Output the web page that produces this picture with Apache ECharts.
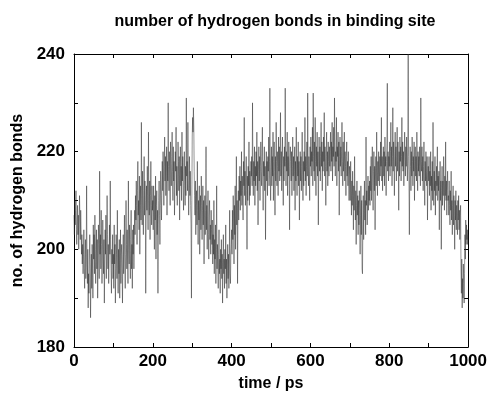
<!DOCTYPE html>
<html>
<head>
<meta charset="utf-8">
<script src="https://cdn.jsdelivr.net/npm/echarts@6/dist/echarts.min.js"></script>
<style>
  html, body { margin: 0; padding: 0; background: #fff; }
  #chart { width: 490px; height: 397px; }
</style>
</head>
<body>
<div id="chart"></div>
<script>
// Hydrogen-bond count in the binding site, one frame per ps from 0 to 1000 ps
const timeStart = 0;
const timeStep = 1;
const hbonds = [
  207, 203, 210, 205, 208, 212, 204, 201, 206, 209, 203, 207, 200, 205, 211, 206, 202, 208, 204, 199, 203, 197, 201, 195, 199,
  204, 196, 192, 199, 202, 194, 198, 213, 197, 193, 200, 188, 195, 191, 198, 203, 196, 186, 194, 199, 192, 201, 197, 190, 205,
  198, 203, 195, 207, 200, 193, 199, 204, 196, 202, 190, 197, 205, 201, 194, 216, 199, 203, 196, 208, 201, 193, 198, 206, 200,
  195, 202, 189, 197, 204, 199, 207, 194, 200, 211, 203, 196, 201, 193, 198, 205, 199, 214, 202, 196, 191, 200, 197, 203, 194,
  199, 192, 205, 197, 201, 189, 196, 203, 199, 194, 208, 198, 191, 200, 195, 202, 190, 197, 204, 193, 199, 201, 196, 189, 198,
  203, 195, 200, 207, 197, 192, 199, 210, 201, 196, 204, 198, 193, 214, 200, 197, 205, 199, 194, 202, 208, 196, 201, 192, 204,
  199, 205, 196, 202, 208, 203, 211, 206, 214, 209, 201, 212, 218, 207, 210, 204, 215, 199, 209, 213, 206, 226, 211, 205, 216,
  209, 203, 212, 219, 207, 214, 210, 191, 206, 213, 208, 217, 211, 204, 224, 210, 207, 214, 202, 211, 218, 209, 205, 213, 208,
  210, 204, 213, 207, 200, 211, 206, 215, 198, 209, 212, 203, 208, 191, 205, 210, 214, 207, 201, 209, 216, 211, 206, 213, 218,
  212, 220, 215, 209, 217, 223, 214, 219, 211, 216, 221, 207, 218, 214, 230, 217, 212, 220, 215, 209, 222, 216, 213, 219, 224,
  216, 210, 221, 214, 218, 207, 213, 220, 216, 225, 211, 217, 209, 214, 222, 218, 212, 219, 206, 215, 221, 213, 217, 210, 224,
  214, 219, 212, 208, 216, 220, 213, 209, 217, 211, 231, 215, 218, 212, 226, 214, 207, 213, 219, 211, 216, 209, 205, 190, 210,
  223, 227, 224, 229, 225, 216, 211, 207, 214, 203, 209, 212, 205, 218, 208, 201, 210, 206, 213, 199, 207, 211, 204, 215, 209,
  202, 208, 213, 205, 210, 197, 206, 211, 203, 208, 221, 204, 209, 200, 206, 212, 203, 198, 207, 210, 202, 205, 199, 208, 204,
  201, 206, 197, 203, 199, 210, 195, 202, 198, 205, 193, 200, 213, 196, 201, 197, 192, 199, 204, 195, 198, 191, 200, 196, 202,
  194, 199, 189, 197, 203, 195, 198, 192, 200, 196, 205, 193, 198, 190, 196, 201, 194, 199, 192, 197, 208, 195, 193, 199, 201,
  204, 199, 208, 202, 211, 206, 197, 209, 203, 213, 200, 207, 219, 205, 210, 193, 208, 212, 206, 215, 210, 217, 208, 214, 211,
  220, 209, 215, 212, 206, 218, 213, 227, 211, 216, 209, 214, 219, 212, 200, 215, 210, 217, 213, 222, 209, 216, 211, 214, 218,
  215, 219, 213, 230, 216, 211, 218, 214, 221, 209, 217, 213, 220, 215, 224, 212, 218, 205, 216, 221, 214, 219, 210, 217, 222,
  216, 213, 219, 225, 214, 208, 218, 215, 221, 212, 217, 202, 215, 220, 214, 218, 211, 219, 216, 223, 213, 218, 233, 215, 210,
  217, 221, 213, 219, 215, 224, 210, 218, 222, 216, 207, 219, 214, 226, 218, 213, 220, 217, 211, 223, 216, 221, 214, 219, 228,
  215, 220, 212, 218, 223, 216, 209, 219, 214, 221, 217, 233, 218, 213, 220, 216, 224, 211, 219, 215, 222, 217, 204, 218, 221,
  218, 214, 220, 211, 217, 223, 215, 219, 212, 216, 221, 208, 218, 214, 225, 216, 211, 219, 215, 222, 213, 218, 206, 216, 220,
  214, 219, 212, 217, 224, 215, 210, 218, 213, 220, 216, 227, 214, 219, 211, 217, 222, 215, 232, 218, 213, 219, 216, 210, 221,
  217, 223, 215, 220, 218, 225, 213, 232, 219, 216, 222, 214, 227, 218, 211, 221, 217, 224, 215, 220, 205, 218, 223, 216, 221,
  214, 219, 226, 217, 222, 212, 220, 216, 223, 218, 228, 215, 221, 217, 209, 219, 224, 216, 220, 213, 222, 218, 215, 221, 217,
  220, 224, 216, 222, 218, 226, 214, 221, 219, 225, 217, 231, 222, 215, 220, 218, 227, 213, 221, 219, 224, 216, 222, 207, 219,
  223, 217, 221, 215, 220, 226, 218, 213, 222, 216, 219, 224, 214, 220, 217, 211, 219, 222, 215, 218, 213, 220, 216, 210, 217,
  215, 210, 218, 212, 207, 214, 209, 216, 211, 204, 213, 208, 219, 210, 206, 212, 201, 209, 214, 207, 211, 203, 210, 205, 212,
  208, 199, 207, 213, 203, 210, 196, 195, 205, 211, 202, 208, 214, 206, 210, 203, 223, 209, 212, 205, 210, 215, 208, 213, 210,
  214, 209, 217, 212, 219, 210, 215, 221, 213, 208, 216, 220, 212, 217, 204, 215, 219, 213, 224, 216, 211, 218, 214, 220, 216,
  213, 219, 215, 222, 217, 227, 214, 219, 212, 218, 221, 215, 220, 213, 223, 217, 219, 211, 218, 222, 234, 216, 220, 214, 219,
  217, 222, 215, 220, 226, 217, 221, 213, 219, 229, 216, 222, 218, 211, 220, 224, 217, 221, 214, 219, 225, 216, 222, 218, 208,
  220, 215, 223, 218, 221, 214, 219, 227, 217, 222, 216, 220, 213, 218, 224, 219, 215, 221, 217, 223, 218, 214, 221, 240, 219,
  214, 203, 216, 221, 217, 212, 220, 215, 223, 218, 213, 219, 216, 222, 210, 218, 221, 215, 219, 214, 224, 217, 212, 220, 216,
  219, 215, 221, 217, 213, 231, 218, 216, 221, 214, 219, 212, 217, 222, 215, 209, 218, 214, 220, 216, 213, 219, 206, 215, 217,
  214, 219, 211, 216, 213, 220, 208, 215, 212, 218, 210, 226, 214, 209, 216, 212, 219, 207, 214, 211, 217, 213, 221, 210, 215,
  212, 216, 204, 213, 218, 210, 214, 200, 212, 217, 209, 214, 211, 219, 213, 208, 215, 211, 222, 210, 214, 207, 212, 216, 210,
  211, 207, 214, 209, 205, 212, 208, 216, 206, 210, 203, 209, 213, 205, 211, 207, 200, 210, 206, 212, 204, 209, 207, 203, 210,
  206, 211, 204, 208, 202, 207, 209, 196, 191, 198, 188, 194, 190, 197, 193, 189, 195, 203, 198, 206, 201, 205, 202, 204, 201,
  203
];
// Axis ranges; ticks every 100 ps / 10 bonds, labelled every 200 ps / 20 bonds
const xTicks = { min: 0, max: 1000, interval: 100, labelEvery: 200 };
const yTicks = { min: 180, max: 240, interval: 10, labelEvery: 20 };

const seriesData = hbonds.map((v, i) => [timeStart + i * timeStep, v]);

const FONT = '"Liberation Sans", Arial, Helvetica, sans-serif';
const black = '#000';

// One side of the framed plot box: ticks point inwards, labels only on bottom/left
function boxAxis(extra, ticks, labelMargin, showLabels) {
  return Object.assign({
    type: 'value',
    min: ticks.min,
    max: ticks.max,
    interval: ticks.interval,
    axisLine: { show: true, onZero: false, lineStyle: { color: black, width: 1 } },
    axisTick: { show: true, inside: true, length: 4, lineStyle: { color: black, width: 1 } },
    splitLine: { show: false },
    axisLabel: {
      show: showLabels,
      color: black,
      fontFamily: FONT,
      fontWeight: 'bold',
      fontSize: 17,
      margin: labelMargin,
      formatter: v => (v % ticks.labelEvery === 0 ? String(v) : '')
    }
  }, extra);
}

const nameStyle = { fontFamily: FONT, fontWeight: 'bold', fontSize: 16, color: black };

const chart = echarts.init(document.getElementById('chart'), null, { renderer: 'canvas' });
chart.setOption({
  animation: false,
  backgroundColor: '#fff',
  title: {
    text: 'number of hydrogen bonds in binding site',
    left: 270,
    top: 9,
    textAlign: 'center',
    textStyle: { fontFamily: FONT, fontWeight: 'bold', fontSize: 16, color: black }
  },
  grid: { left: 74, right: 19, top: 54, bottom: 42, containLabel: false },
  xAxis: [
    boxAxis({
      position: 'bottom',
      name: 'time / ps',
      nameLocation: 'middle',
      nameGap: 29,
      nameTextStyle: nameStyle
    }, xTicks, 6, true),
    boxAxis({ position: 'top' }, xTicks, 6, false)
  ],
  yAxis: [
    boxAxis({
      position: 'left',
      name: 'no. of hydrogen bonds',
      nameLocation: 'middle',
      nameGap: 45,
      nameTextStyle: nameStyle
    }, yTicks, 9, true),
    boxAxis({ position: 'right' }, yTicks, 9, false)
  ],
  series: [{
    type: 'line',
    xAxisIndex: 0,
    yAxisIndex: 0,
    data: seriesData,
    showSymbol: false,
    sampling: null,
    clip: true,
    lineStyle: { color: '#2a2a2a', width: 0.5 }
  }]
});
</script>
</body>
</html>
